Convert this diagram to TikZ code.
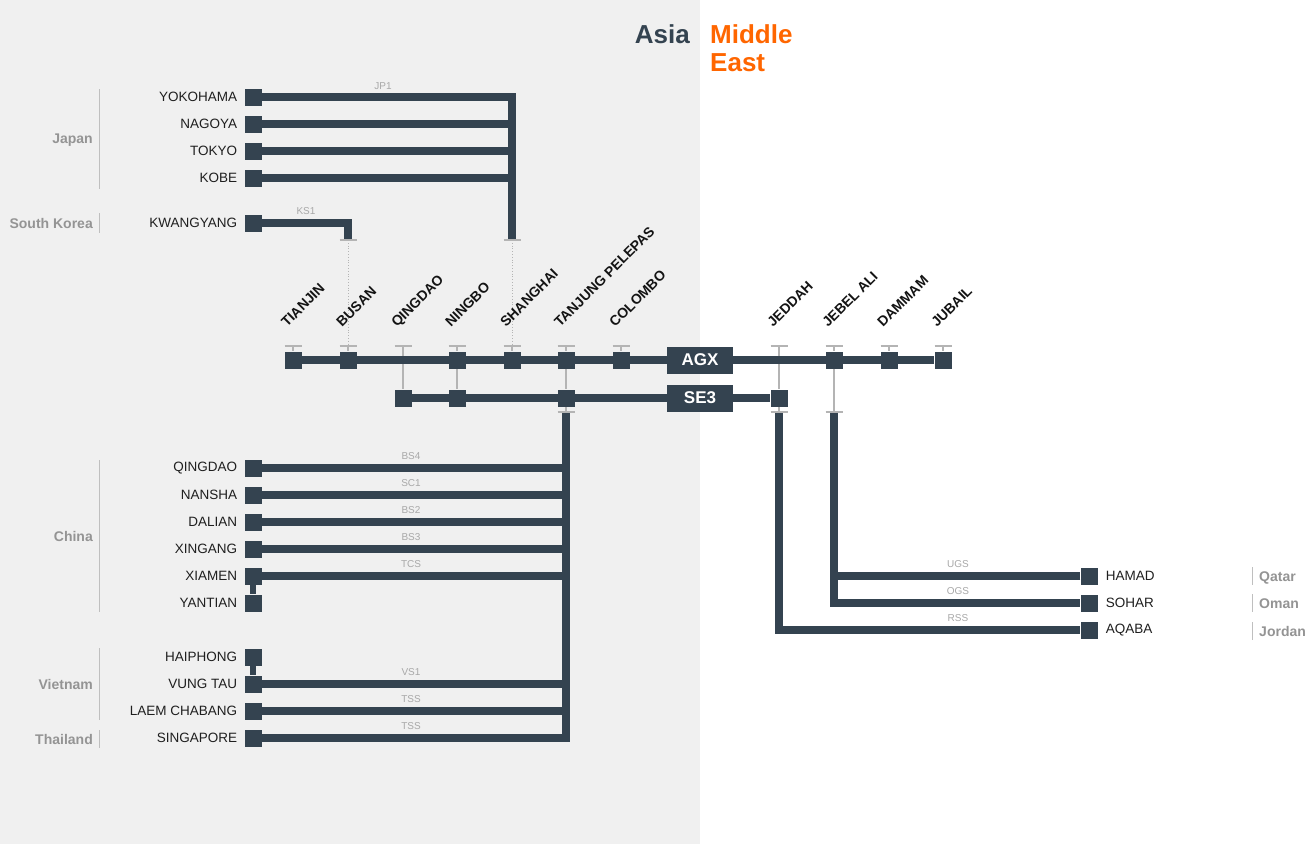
\documentclass[tikz,border=0pt]{standalone}
\usepackage{fontspec}
\setmainfont{Liberation Sans}
\usetikzlibrary{positioning}

\definecolor{navy}{RGB}{52,67,80}
\definecolor{tangerine}{RGB}{255,102,0}
\definecolor{sheet}{RGB}{240,240,240}
\definecolor{tickgray}{RGB}{180,180,180}
\definecolor{labelgray}{RGB}{168,168,168}

\pgfdeclarelayer{ground}
\pgfdeclarelayer{wires}
\pgfsetlayers{ground,wires,main}

\begin{document}
\begin{tikzpicture}[x=1pt,y=-1pt,
    port/.style={rectangle,fill=navy,minimum size=17pt,inner sep=0pt},
    ghost/.style={inner sep=0pt,minimum size=0pt},
    service/.style={rectangle,fill=navy,minimum width=66pt,minimum height=27pt,inner sep=0pt,text=white,font=\bfseries\fontsize{17}{17}\selectfont},
    route/.style={navy,line width=8.5pt},
    neck/.style={navy,line width=5.5pt},
    feeder/.style={tickgray,line width=1.2pt},
    dots/.style={tickgray,line width=0.8pt,dotted},
    tickbar/.style={tickgray,line width=1.8pt},
    city/.style={inner sep=0pt,text=black!88,font=\fontsize{13.5}{14}\selectfont},
    hub/.style={inner sep=0pt,rotate=45,anchor=base west,text=black!92,font=\bfseries\fontsize{14}{14}\selectfont},
    svc/.style={inner sep=0pt,text=labelgray,font=\fontsize{10}{10}\selectfont},
    ctry/.style={inner sep=0pt,anchor=base east,text=black!42,font=\bfseries\fontsize{14}{14}\selectfont},
    ctrybar/.style={black!25,line width=1pt}]

    % page and the grey asia half
    \useasboundingbox (0,0) rectangle (1316,844);
    \begin{pgfonlayer}{ground}
        \fill[white] (0,0) rectangle (1316,844);
        \fill[sheet] (0,0) rectangle (700,844);
    \end{pgfonlayer}

    % title
    \node[anchor=base east,inner sep=0pt,text=navy,font=\bfseries\fontsize{26}{28}\selectfont] (asia) at (690,43) {Asia};
    \node[anchor=base west,inner sep=0pt,align=left,text=tangerine,font=\bfseries\fontsize{26}{28}\selectfont] (mideast) at (710,71) {Middle\\East};

    % hub ports on the AGX line
    \foreach \n/\x/\s/\t in {tianjin/293/port/TIANJIN, busan/348/port/BUSAN, qingdao/403/ghost/QINGDAO,
        ningbo/457/port/NINGBO, shanghai/512/port/SHANGHAI, tanjung/566/port/TANJUNG PELEPAS,
        colombo/621/port/COLOMBO, jeddah/779/ghost/JEDDAH, jebelali/834/port/JEBEL ALI,
        dammam/889/port/DAMMAM, jubail/943/port/JUBAIL}{
        \node[\s] (\n) at (\x,360) {};
        \coordinate (\n-top) at (\x,346);
        \node[hub] (\n-l) at (\x-6,328) {\t};
        \draw[tickbar] ([xshift=-8.5pt]\n-top) -- ([xshift=8.5pt]\n-top);
    }

    % hub ports on the SE3 line
    \foreach \n/\x in {qingdaoS/403, ningboS/457, tanjungS/566, jeddahS/779}
        \node[port] (\n) at (\x,398) {};

    % service boxes
    \node[service] (agx) at (700,360) {AGX};
    \node[service] (se3) at (700,398) {SE3};

    % ends of the feeder trunks
    \coordinate (jp1) at (512,240);
    \coordinate (ks1) at (348,240);
    \coordinate (tp-low) at (566,412);
    \coordinate (jd-low) at (779,412);
    \coordinate (ja-low) at (834,412);
    \foreach \c in {jp1,ks1,tp-low,jd-low,ja-low}
        \draw[tickbar] ([xshift=-8.5pt]\c) -- ([xshift=8.5pt]\c);

    % japan and korea
    \foreach \n/\y/\t in {yokohama/97/YOKOHAMA, nagoya/124/NAGOYA, tokyo/151/TOKYO, kobe/178/KOBE, kwangyang/223/KWANGYANG}{
        \node[port] (\n) at (253,\y) {};
        \node[city,left=7pt of \n] (\n-l) {\t};
    }

    % china, vietnam and thailand
    \foreach \n/\y/\t in {qingdaoC/468/QINGDAO, nansha/495/NANSHA, dalian/522/DALIAN, xingang/549/XINGANG,
        xiamen/576/XIAMEN, yantian/603/YANTIAN, haiphong/657/HAIPHONG, vungtau/684/VUNG TAU,
        laem/711/LAEM CHABANG, singapore/738/SINGAPORE}{
        \node[port] (\n) at (253,\y) {};
        \node[city,left=7pt of \n] (\n-l) {\t};
    }

    % middle east
    \foreach \n/\y/\t in {hamad/576/HAMAD, sohar/603/SOHAR, aqaba/630/AQABA}{
        \node[port] (\n) at (1089,\y) {};
        \node[city,right=8pt of \n] (\n-l) {\t};
    }

    % service names
    \foreach \n/\x/\y/\t in {jp1-l/383/86/JP1, ks1-l/306/211/KS1, bs4/411/456/BS4, sc1/411/483/SC1,
        bs2/411/510/BS2, bs3/411/537/BS3, tcs/411/564/TCS, vs1/411/672/VS1, tss1/411/699/TSS,
        tss2/411/726/TSS, ugs/958/564/UGS, ogs/958/591/OGS, rss/958/618/RSS}
        \node[svc] (\n) at (\x,\y) {\t};

    % countries
    \foreach \n/\y/\a/\b/\t in {japan/138/89/189/Japan, korea/223/213/233/South Korea, china/536/460/612/China,
        vietnam/684/648/720/Vietnam, thailand/739/730/748/Thailand}{
        \node[ctry] (\n) at (93,\y+5) {\t};
        \draw[ctrybar] (99,\a) -- (99,\b);
    }
    \foreach \n/\y/\t in {qatar/576/Qatar, oman/603/Oman, jordan/631/Jordan}{
        \node[ctry,anchor=base west] (\n) at (1259,\y+5) {\t};
        \draw[ctrybar] (1252,\y-9) -- (1252,\y+9);
    }

    \begin{pgfonlayer}{wires}
        % thin links between the lines
        \foreach \n in {tianjin,busan,ningbo,shanghai,tanjung,colombo,jebelali,dammam,jubail}
            \draw[feeder] (\n-top) -- (\n);
        \draw[feeder] (qingdao-top) -- (qingdaoS);
        \draw[feeder] (ningbo) -- (ningboS);
        \draw[feeder] (tanjung) -- (tanjungS);
        \draw[feeder] (jeddah-top) -- (jeddahS);
        \draw[feeder] (tanjungS) -- (tp-low);
        \draw[feeder] (jeddahS) -- (jd-low);
        \draw[feeder] (jebelali) -- (ja-low);
        \draw[dots] (jp1) -- (shanghai-top);
        \draw[dots] (ks1) -- (busan-top);

        % main lines
        \draw[route] (tianjin) -- (jubail);
        \draw[route] (qingdaoS) -- (jeddahS);

        % feeders into the hubs
        \draw[route] (yokohama) -| (jp1);
        \foreach \n in {nagoya,tokyo,kobe}
            \draw[route] (\n) -- (\n -| jp1);
        \draw[route] (kwangyang) -| (ks1);
        \draw[route] (tp-low) |- (singapore);
        \foreach \n in {qingdaoC,nansha,dalian,xingang,xiamen,vungtau,laem}
            \draw[route] (\n) -- (\n -| tp-low);
        \draw[route] (jd-low) |- (aqaba);
        \draw[route] (ja-low) |- (sohar);
        \draw[route] (hamad) -- (hamad -| ja-low);
        \draw[neck] (xiamen) -- (yantian);
        \draw[neck] (haiphong) -- (vungtau);
    \end{pgfonlayer}
\end{tikzpicture}
\end{document}
